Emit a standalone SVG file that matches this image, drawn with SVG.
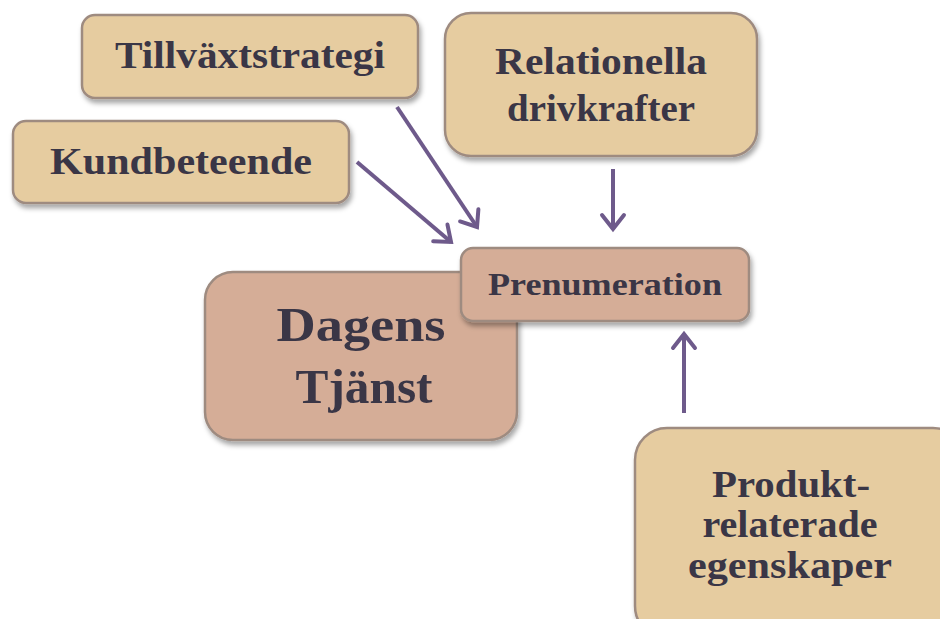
<svg xmlns="http://www.w3.org/2000/svg" width="940" height="619" viewBox="0 0 940 619">
<defs>
<filter id="sh" x="-10%" y="-10%" width="125%" height="130%">
<feDropShadow dx="2" dy="4" stdDeviation="2.5" flood-color="#000" flood-opacity="0.35"/>
</filter>
<marker id="ah" markerUnits="userSpaceOnUse" markerWidth="34" markerHeight="34" viewBox="-18 -17 22 34" refX="0" refY="0" orient="auto">
<path d="M-14,-11 L0,0 L-14,11" fill="none" stroke="#6e5a8b" stroke-width="4" stroke-linecap="round" stroke-linejoin="miter"/>
</marker>
</defs>
<style>
.tan{fill:#e6cca0;stroke:#9e8b80;stroke-width:2.5;filter:url(#sh)}
.rose{fill:#d5ad97;stroke:#9e8b80;stroke-width:2.5;filter:url(#sh)}
text{font-family:"Liberation Serif","Times New Roman",serif;font-weight:bold;fill:#3a3646;text-anchor:middle}
.c{stroke:#6e5a8b;stroke-width:4;fill:none;marker-end:url(#ah)}
</style>
<g id="dagens">
<rect class="rose" x="205" y="272" width="312" height="168" rx="28"/>
<text x="361" y="341" font-size="49" textLength="169" lengthAdjust="spacingAndGlyphs">Dagens</text>
<text x="364" y="403" font-size="49" textLength="137" lengthAdjust="spacingAndGlyphs">Tjänst</text>
</g>
<g id="tillvaxt">
<rect class="tan" x="82" y="15" width="336" height="83" rx="13"/>
<text x="250" y="68" font-size="37" textLength="270" lengthAdjust="spacingAndGlyphs">Tillväxtstrategi</text>
</g>
<g id="kund">
<rect class="tan" x="13" y="121" width="336" height="82" rx="13"/>
<text x="181" y="174" font-size="37" textLength="262" lengthAdjust="spacingAndGlyphs">Kundbeteende</text>
</g>
<g id="relationella">
<rect class="tan" x="445" y="13" width="312" height="143" rx="26"/>
<text x="601" y="74" font-size="37" textLength="212" lengthAdjust="spacingAndGlyphs">Relationella</text>
<text x="601" y="121" font-size="37" textLength="188" lengthAdjust="spacingAndGlyphs">drivkrafter</text>
</g>
<g id="prenumeration">
<rect class="rose" x="461" y="248" width="288" height="73" rx="12"/>
<text x="605" y="295" font-size="31" textLength="234" lengthAdjust="spacingAndGlyphs">Prenumeration</text>
</g>
<g id="produkt">
<rect class="tan" x="635" y="428" width="330" height="210" rx="32"/>
<text x="791" y="497" font-size="37" textLength="158" lengthAdjust="spacingAndGlyphs">Produkt-</text>
<text x="790" y="537" font-size="37" textLength="175" lengthAdjust="spacingAndGlyphs">relaterade</text>
<text x="790" y="578" font-size="37" textLength="204" lengthAdjust="spacingAndGlyphs">egenskaper</text>
</g>
<g id="connectors">
<line class="c" x1="397" y1="107" x2="477" y2="227"/>
<line class="c" x1="357" y1="162" x2="451" y2="242"/>
<line class="c" x1="613" y1="169" x2="613" y2="229"/>
<line class="c" x1="684" y1="413" x2="684" y2="334"/>
</g>
</svg>
